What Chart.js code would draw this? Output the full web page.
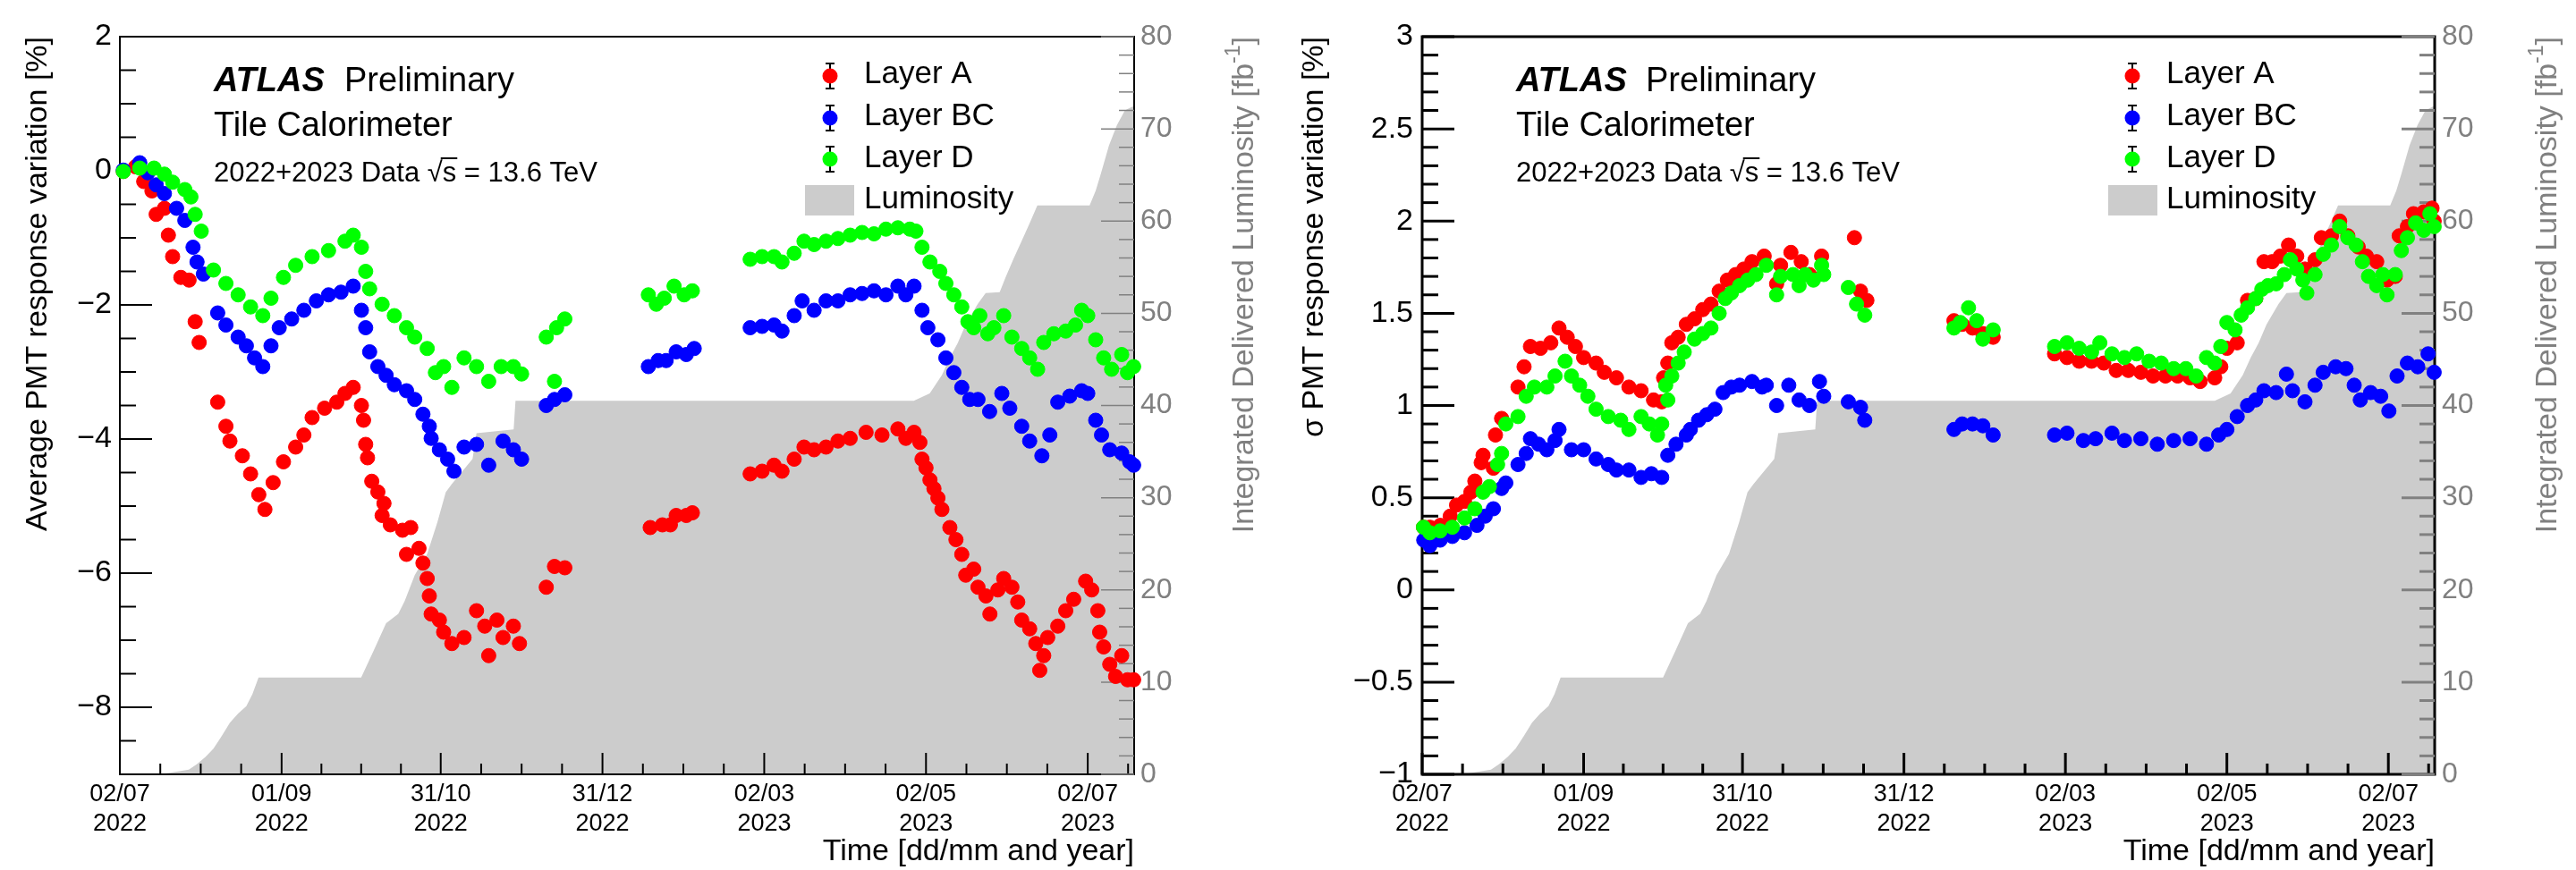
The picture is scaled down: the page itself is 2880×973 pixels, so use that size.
<!DOCTYPE html>
<html>
<head>
<meta charset="utf-8">
<title>TileCal PMT response variation</title>
<script src="https://cdn.jsdelivr.net/npm/chart.js@4.4.1/dist/chart.umd.min.js"></script>
<style>
  body { margin: 0; background: #fff; }
  #page { position: relative; width: 2880px; height: 973px; overflow: hidden; }
  .pad { position: absolute; top: 0; width: 1440px; height: 973px; }
</style>
</head>
<body>
<div id="page">
  <div class="pad" style="left:0"><canvas id="avgChart" width="1440" height="973"></canvas></div>
  <div class="pad" style="left:1440px"><canvas id="sigmaChart" width="1440" height="973"></canvas></div>
</div>
<script>
// x values are days since 02/07/2022
var dateTicks = [0, 61, 121, 182, 243, 304, 365];
var dateLabels = [['02/07', '2022'], ['01/09', '2022'], ['31/10', '2022'], ['31/12', '2022'],
                  ['02/03', '2023'], ['02/05', '2023'], ['02/07', '2023']];
var dayMax = 382.5;
var lumiTicks = [0, 10, 20, 30, 40, 50, 60, 70, 80];
var avgTicks = [-8, -6, -4, -2, 0, 2];
var sigTicks = [-1, -0.5, 0, 0.5, 1, 1.5, 2, 2.5, 3];
var layerNames = ['Layer A', 'Layer BC', 'Layer D'];
var layerColors = ['#ff0000', '#0000ff', '#00ff00'];

// integrated delivered luminosity [fb-1]
var lumi = [[0,0],[15.2,0],[26,0.5],[29,1.1],[32.3,1.9],[35.3,2.8],[38.5,4.2],[41.5,5.6],[44.6,6.6],
  [47.7,7.4],[50,8.7],[52.3,10.5],[91,10.5],[95.7,13.4],[100.4,16.4],[105,17.4],[107.4,18.8],
  [111.2,21.6],[115.9,23.9],[119.8,27.4],[122.9,30.6],[125.2,31.5],[133,34.2],[134.5,37],
  [148.5,37.4],[149.2,40.5],[299.4,40.5],[305.4,41.3],[310,43.3],[313,45.2],[316,46.8],[319,48.8],
  [323.5,51],[326.5,52.2],[331.8,52.3],[334,53.9],[337,55.9],[340,57.8],[343,59.7],[346,61.7],
  [365.7,61.7],[368,63.3],[370,65.2],[373,68.2],[376,70.4],[379,72],[382.5,72.5]];

// average PMT response variation [%]
var avgA = [[1.3,-0.01],[5.9,0.06],[9,-0.16],[12.1,-0.30],[13.7,-0.65],[16.8,-0.56],[18.3,-0.96],
  [19.9,-1.28],[23,-1.59],[26.1,-1.63],[28.4,-2.25],[29.9,-2.56],[36.9,-3.45],[40,-3.81],[41.5,-4.03],
  [46.2,-4.25],[49.3,-4.52],[52.4,-4.83],[54.7,-5.05],[57.8,-4.65],[61.7,-4.34],[66.3,-4.12],
  [69.4,-3.94],[72.5,-3.68],[77.2,-3.54],[81.8,-3.45],[84.9,-3.32],[88,-3.23],[91.1,-3.50],
  [91.9,-3.72],[92.7,-4.08],[93.4,-4.28],[95,-4.63],[97.3,-4.79],[98.9,-5.14],[99.6,-4.96],
  [102,-5.28],[106.6,-5.36],[108.1,-5.72],[109.7,-5.32],[112.8,-5.63],[114.3,-5.85],[115.9,-6.08],
  [116.7,-6.34],[117.4,-6.61],[120.5,-6.70],[122.1,-6.88],[125.2,-7.05],[129.8,-6.96],[134.5,-6.56],
  [137.6,-6.79],[139.1,-7.23],[142.2,-6.70],[144.5,-6.96],[148.4,-6.79],[150.7,-7.05],
  [160.8,-6.21],[163.9,-5.90],[167.8,-5.92],
  [200,-5.32],[204.6,-5.28],[207.6,-5.28],[209.8,-5.14],[213.6,-5.14],[215.9,-5.10],
  [237.7,-4.52],[242.2,-4.48],[246.7,-4.39],[249.7,-4.48],[254.3,-4.30],[258,-4.12],[261.8,-4.16],
  [266.3,-4.12],[270.8,-4.03],[275.4,-3.99],[281.4,-3.90],[287.4,-3.94],[293.4,-3.85],[296.4,-3.99],
  [299.5,-3.90],[301.7,-4.05],[302.5,-4.30],[304,-4.43],[305.5,-4.61],[307,-4.74],[308.5,-4.88],
  [310,-5.05],[313,-5.32],[315.3,-5.50],[317.5,-5.72],[319,-6.03],[322,-5.94],[323.6,-6.21],
  [326.6,-6.34],[328.1,-6.61],[331.1,-6.25],[333.3,-6.08],[336.4,-6.21],[338.6,-6.43],[340.1,-6.70],
  [343.1,-6.83],[345.4,-7.05],[346.9,-7.45],[348.4,-7.23],[349.9,-6.96],[353.7,-6.79],[356.7,-6.56],
  [359.7,-6.39],[364.2,-6.12],[366.5,-6.25],[368.8,-6.56],[369.5,-6.88],[371,-7.10],[373.3,-7.36],
  [375.5,-7.54],[377.8,-7.23],[380,-7.59],[382.3,-7.59]];
var avgBC = [[1.3,0.01],[7.5,0.12],[10.6,-0.03],[13.7,-0.21],[16.8,-0.34],[21.4,-0.56],[24.5,-0.74],
  [27.6,-1.14],[29.1,-1.36],[31.5,-1.54],[36.9,-2.12],[40,-2.30],[44.6,-2.48],[47.7,-2.61],
  [50.8,-2.79],[53.9,-2.92],[57,-2.61],[60.1,-2.34],[64.8,-2.21],[69.4,-2.08],[74.1,-1.94],
  [78.7,-1.85],[83.4,-1.81],[88,-1.72],[91.1,-2.08],[92.7,-2.34],[94.2,-2.70],[97.3,-2.92],
  [100.4,-3.05],[103.5,-3.19],[108.1,-3.28],[111.2,-3.41],[114.3,-3.63],[116.7,-3.81],[117.4,-3.99],
  [120.5,-4.16],[123.6,-4.30],[126,-4.48],[129.8,-4.12],[134.5,-4.08],[139.1,-4.39],[144.5,-4.03],
  [148.4,-4.16],[151.5,-4.30],
  [160.8,-3.50],[163.9,-3.41],[167.8,-3.34],
  [199.3,-2.92],[203,-2.83],[206,-2.83],[209.8,-2.70],[213.6,-2.74],[216.6,-2.65],
  [237.7,-2.34],[242.2,-2.32],[246.7,-2.30],[249.7,-2.39],[254.3,-2.16],[257.3,-1.94],[261.8,-2.08],
  [266.3,-1.94],[270.8,-1.94],[275.4,-1.85],[279.9,-1.83],[284.4,-1.79],[288.9,-1.85],[293.4,-1.72],
  [296.4,-1.85],[299.5,-1.72],[302.5,-2.08],[304.7,-2.34],[308.5,-2.52],[311.5,-2.79],[314.5,-3.01],
  [317.5,-3.23],[320.5,-3.41],[323.6,-3.41],[328,-3.59],[332.6,-3.32],[335.6,-3.54],[340.1,-3.81],
  [343.1,-4.03],[347.7,-4.25],[350.7,-3.94],[353.7,-3.45],[358.2,-3.36],[362.7,-3.28],[365,-3.32],
  [368,-3.72],[370.2,-3.94],[373.3,-4.16],[377.8,-4.21],[380.8,-4.34],[382.3,-4.39]];
var avgD = [[1.3,-0.01],[7.5,0.04],[12.9,0.04],[16.8,-0.05],[19.9,-0.17],[24.5,-0.28],[26.8,-0.39],
  [28.4,-0.65],[30.7,-0.90],[35.3,-1.48],[40,-1.68],[44.6,-1.85],[49.3,-2.03],[53.9,-2.16],[57,-1.90],
  [61.7,-1.59],[66.3,-1.41],[72.5,-1.28],[78.7,-1.19],[84.9,-1.05],[88,-0.96],[91.1,-1.14],
  [92.7,-1.50],[94.2,-1.76],[98.9,-1.99],[103.5,-2.16],[108.1,-2.34],[111.2,-2.48],[115.9,-2.65],
  [119,-3.01],[122.1,-2.92],[125.2,-3.23],[129.8,-2.79],[134.5,-2.92],[139.1,-3.14],[143.8,-2.92],
  [148.4,-2.92],[151.5,-3.03],
  [160.8,-2.48],[163.9,-3.14],[164.7,-2.34],[167.8,-2.21],
  [199.3,-1.85],[202.3,-1.99],[205.3,-1.90],[209,-1.72],[212.8,-1.85],[215.9,-1.79],
  [237.7,-1.32],[242.2,-1.28],[246.7,-1.28],[249.7,-1.36],[254.3,-1.23],[258,-1.05],[261.8,-1.10],
  [266.3,-1.05],[270.8,-1.01],[275.4,-0.96],[279.9,-0.92],[284.4,-0.94],[288.9,-0.87],[293.4,-0.85],
  [297.9,-0.87],[300.2,-0.90],[302.5,-1.14],[305.5,-1.36],[309.2,-1.50],[311.5,-1.68],[314.5,-1.85],
  [317.5,-2.03],[319.8,-2.25],[322,-2.34],[324.3,-2.16],[327.3,-2.43],[329.6,-2.34],[333.3,-2.16],
  [336.4,-2.48],[340.1,-2.65],[343.1,-2.79],[346.1,-2.96],[348.4,-2.56],[352.2,-2.43],[356.7,-2.39],
  [360.4,-2.30],[362.7,-2.08],[365,-2.16],[368,-2.52],[371,-2.79],[374,-2.96],[377.8,-2.74],
  [380,-3.01],[382.3,-2.92]];

// sigma of PMT response variation [%]
var sigA = [[0.5,0.34],[2.9,0.34],[6.8,0.35],[10.6,0.40],[13,0.46],[16,0.48],[18.4,0.53],[19.9,0.59],
  [22.3,0.69],[23,0.73],[26.9,0.66],[27.7,0.84],[30,0.93],[36.2,1.10],[38.5,1.21],[40.9,1.32],
  [44.7,1.31],[48.6,1.34],[51.7,1.42],[54.8,1.37],[57.9,1.32],[61,1.26],[65.7,1.23],[68.8,1.18],
  [73.4,1.15],[78.1,1.10],[82.7,1.08],[87.4,1.03],[90.5,1.02],[91.2,1.15],[92.8,1.23],[94.3,1.34],
  [96.7,1.37],[99.8,1.44],[102.9,1.47],[106,1.52],[109.1,1.55],[112.2,1.62],[115.3,1.68],[118.4,1.71],
  [121.5,1.74],[124.6,1.78],[129.2,1.81],[133.9,1.66],[135.4,1.76],[139.3,1.83],[143.2,1.78],
  [146.3,1.71],[150.9,1.81],
  [163.3,1.91],[165.6,1.62],[168,1.57],
  [200.9,1.46],[204,1.44],[207.9,1.42],[211.8,1.39],[215.7,1.37],
  [238.9,1.28],[243.6,1.26],[248.2,1.24],[252.9,1.24],[257.5,1.23],[262.2,1.19],[266.8,1.19],
  [271.5,1.18],[276.1,1.16],[280.8,1.16],[285.4,1.16],[290.1,1.15],[293.9,1.13],[299.4,1.15],
  [301.7,1.21],[304,1.31],[307.9,1.34],[311.8,1.57],[314.9,1.58],[318,1.78],[321.1,1.78],[324.2,1.81],
  [327.3,1.87],[330.4,1.81],[333.5,1.74],[337.3,1.79],[339.7,1.91],[343.5,1.92],[346.6,2.00],
  [349.7,1.92],[353.6,1.86],[356.7,1.81],[360.6,1.78],[364.5,1.68],[367.6,1.70],[369.1,1.92],
  [372.2,1.97],[374.5,2.04],[378.4,2.05],[381.5,2.07],[382.3,2.00]];
var sigBC = [[0.6,0.27],[2.9,0.24],[6.8,0.27],[11.4,0.29],[16,0.31],[20.7,0.35],[23.8,0.40],[26.9,0.44],
  [30,0.55],[31.6,0.58],[36.2,0.68],[39.3,0.74],[40.9,0.82],[44,0.79],[47.1,0.76],[50.2,0.81],
  [51.7,0.87],[56.4,0.76],[61,0.76],[65.7,0.71],[70.3,0.68],[73.4,0.65],[78.1,0.65],[82.7,0.61],
  [86.6,0.63],[90.5,0.61],[92.8,0.73],[95.9,0.79],[99.8,0.84],[101.3,0.87],[104.4,0.92],[107.5,0.95],
  [110.6,0.98],[113.7,1.07],[116.8,1.10],[119.9,1.11],[124.6,1.13],[128.4,1.10],[130,1.11],
  [133.9,1.00],[138.5,1.11],[142.4,1.03],[146.3,1.00],[150.1,1.13],[151.7,1.05],
  [161,1.02],[165.6,0.99],[167.2,0.92],
  [200.9,0.87],[204,0.90],[207.9,0.90],[211.8,0.89],[215.7,0.84],
  [238.9,0.84],[243.6,0.85],[249.8,0.81],[254.4,0.82],[260.6,0.85],[265.3,0.81],[271.5,0.82],
  [277.7,0.79],[283.9,0.81],[290.1,0.82],[296.3,0.79],[300.9,0.84],[304,0.87],[307.9,0.94],
  [311.8,1.00],[314.9,1.03],[318,1.08],[322.6,1.07],[326.5,1.17],[328.8,1.08],[333.5,1.02],
  [337.3,1.11],[340.4,1.18],[345.1,1.21],[349,1.20],[352.1,1.11],[354.4,1.03],[358.3,1.07],
  [362.1,1.05],[365.2,0.97],[368.3,1.16],[372.2,1.23],[376.1,1.21],[380,1.28],[382.3,1.18]];
var sigD = [[0.5,0.34],[2.9,0.31],[6.8,0.32],[11.4,0.34],[16,0.39],[19.9,0.44],[23,0.53],[25.4,0.56],
  [28.5,0.68],[30,0.74],[31.6,0.90],[36.2,0.94],[39.3,1.05],[42.4,1.10],[47.1,1.10],[50.2,1.16],
  [54,1.24],[56.4,1.16],[59.5,1.11],[62.6,1.05],[65.7,0.98],[70.3,0.94],[75,0.92],[78.1,0.87],
  [82.7,0.94],[85.8,0.90],[88.9,0.84],[90.5,0.90],[92,1.11],[92.8,1.03],[94.3,1.16],[96.7,1.23],
  [99,1.29],[102.9,1.36],[106,1.39],[109.1,1.42],[112.2,1.50],[114.5,1.58],[116.8,1.61],[119.9,1.65],
  [123,1.68],[126.1,1.71],[130,1.76],[133.9,1.60],[135.4,1.70],[140.1,1.71],[142.4,1.65],[144.7,1.71],
  [147.8,1.68],[150.9,1.76],[151.7,1.71],
  [161,1.64],[164.1,1.55],[167.2,1.49],
  [200.9,1.42],[203.3,1.45],[206.4,1.53],[209.5,1.46],[211.8,1.36],[215.7,1.41],
  [238.9,1.32],[243.6,1.34],[248.2,1.31],[252.9,1.29],[256,1.34],[260.6,1.28],[265.3,1.26],
  [269.9,1.28],[274.6,1.24],[279.2,1.23],[283.9,1.20],[288.5,1.20],[292.4,1.16],[296.3,1.26],
  [299.4,1.23],[301.7,1.32],[304,1.45],[307.1,1.41],[309.4,1.49],[311.8,1.53],[314.9,1.58],
  [317.2,1.63],[319.5,1.65],[322.6,1.66],[325.7,1.71],[328,1.79],[330.4,1.74],[332.7,1.68],
  [334.2,1.61],[337.3,1.71],[340.4,1.82],[343.5,1.87],[346.6,1.97],[349.7,1.91],[352.8,1.87],
  [355.2,1.78],[357.5,1.70],[360.6,1.65],[362.9,1.71],[364.5,1.60],[367.6,1.71],[369.9,1.84],
  [372.2,1.91],[375.3,1.99],[378.4,1.95],[380.7,2.04],[382.3,1.97]];

var FONT = "'Liberation Sans', Arial, Helvetica, sans-serif";
var GREY = '#808080';

function fmt(v) { return v < 0 ? '\u2212' + Math.abs(v) : String(v); }
function pts(arr) { return arr.map(function(p) { return { x: p[0], y: p[1] }; }); }

function dateMinors() {
  var out = [];
  for (var i = 0; i < dateTicks.length - 1; i++) {
    var a = dateTicks[i], b = dateTicks[i + 1];
    for (var k = 1; k < 4; k++) out.push(a + (b - a) * k / 4);
  }
  var last = dateTicks[dateTicks.length - 1];
  var st = (last - dateTicks[0]) / ((dateTicks.length - 1) * 4);
  for (var d = last + st; d <= dayMax; d += st) out.push(d);
  return out;
}

function seg(ctx, x1, y1, x2, y2) {
  ctx.beginPath(); ctx.moveTo(x1, y1); ctx.lineTo(x2, y2); ctx.stroke();
}

// draw pieces of text one after another; each piece may be smaller / raised
function richText(ctx, parts, x, y) {
  parts.forEach(function(p) {
    ctx.font = (p.style || '') + ' ' + p.size + 'px ' + FONT;
    ctx.fillText(p.t, x, y - (p.dy || 0));
    x += ctx.measureText(p.t).width;
  });
}
function richWidth(ctx, parts) {
  var w = 0;
  parts.forEach(function(p) { ctx.font = (p.style || '') + ' ' + p.size + 'px ' + FONT; w += ctx.measureText(p.t).width; });
  return w;
}

function decor(spec) {
  return {
    id: 'decor',
    afterDatasetDraw: function(chart, args) {
      if (args.index !== 0) return;   // right after the luminosity fill, under the markers
      var ctx = chart.ctx, a = chart.chartArea;
      var sx = chart.scales.x, sy = chart.scales.y, s2 = chart.scales.y2;
      ctx.save();
      ctx.strokeStyle = '#000';
      ctx.lineWidth = spec.lw;
      ctx.strokeRect(a.left, a.top, a.right - a.left, a.bottom - a.top);
      var n = Math.round((spec.yMax - spec.yMin) / spec.yStep);
      for (var i = 0; i <= n; i++) {
        var v = spec.yMin + i * spec.yStep, py = sy.getPixelForValue(v);
        var major = spec.yTicks.some(function(t) { return Math.abs(t - v) < 1e-6; });
        seg(ctx, a.left, py, a.left + (major ? 36 : 18), py);
      }
      dateTicks.forEach(function(d) { var px = sx.getPixelForValue(d); seg(ctx, px, a.bottom, px, a.bottom - 24); });
      dateMinors().forEach(function(d) { var px = sx.getPixelForValue(d); seg(ctx, px, a.bottom, px, a.bottom - 12); });
      ctx.strokeStyle = GREY;
      ctx.lineWidth = spec.lw2;
      for (var l = 0; l <= 80; l += 2) {
        var p2 = s2.getPixelForValue(l);
        seg(ctx, a.right - (l % 10 === 0 ? 37 : 17), p2, a.right, p2);
      }
      ctx.restore();
    },
    afterDraw: function(chart) {
      var ctx = chart.ctx, a = chart.chartArea;
      ctx.save();
      ctx.fillStyle = '#000';
      ctx.textAlign = 'left';
      ctx.textBaseline = 'alphabetic';
      // ATLAS label
      ctx.font = 'italic bold 38px ' + FONT;
      ctx.fillText('ATLAS', spec.labelX, 102);
      ctx.font = '38px ' + FONT;
      ctx.fillText('Preliminary', spec.prelimX, 102);
      ctx.font = '38px ' + FONT;
      ctx.fillText('Tile Calorimeter', spec.labelX, 152);
      ctx.font = '31px ' + FONT;
      var x = spec.labelX, y = 203;
      var t1 = '2022+2023 Data ', t2 = '\u221A', t3 = 's', t4 = ' = 13.6 TeV';
      ctx.fillText(t1, x, y); x += ctx.measureText(t1).width;
      ctx.fillText(t2, x, y); x += ctx.measureText(t2).width;
      ctx.fillText(t3, x, y);
      var ws = ctx.measureText(t3).width;
      ctx.strokeStyle = '#000'; ctx.lineWidth = 2;
      seg(ctx, x - 2, y - 26, x + ws + 1, y - 26);
      ctx.fillText(t4, x + ws, y);

      // legend
      var rows = [85, 132, 178], base = [93, 140, 187];
      ctx.font = '35px ' + FONT;
      layerNames.forEach(function(name, i) {
        ctx.strokeStyle = '#000'; ctx.lineWidth = 2;
        seg(ctx, spec.legX, rows[i] - 14, spec.legX, rows[i] + 14);
        seg(ctx, spec.legX - 5, rows[i] - 14, spec.legX + 5, rows[i] - 14);
        seg(ctx, spec.legX - 5, rows[i] + 14, spec.legX + 5, rows[i] + 14);
        ctx.fillStyle = layerColors[i];
        ctx.beginPath(); ctx.arc(spec.legX, rows[i], 8.5, 0, Math.PI * 2); ctx.fill();
        ctx.fillStyle = '#000';
        ctx.fillText(name, spec.legTextX, base[i]);
      });
      ctx.fillStyle = '#cccccc';
      ctx.fillRect(spec.boxX, 207, 55, 34);
      ctx.fillStyle = '#000';
      ctx.fillText('Luminosity', spec.legTextX, 233);

      // x axis title
      ctx.font = '34px ' + FONT;
      ctx.textAlign = 'right';
      ctx.fillText('Time [dd/mm and year]', a.right, 962);

      // left y title
      ctx.save();
      ctx.translate(spec.yTitleX, 41);
      ctx.rotate(-Math.PI / 2);
      ctx.font = '34px ' + FONT;
      ctx.textAlign = 'right';
      ctx.textBaseline = 'middle';
      ctx.fillText(spec.yTitle, 0, 0);
      ctx.restore();

      // right y title
      ctx.save();
      ctx.translate(spec.y2TitleX, 41);
      ctx.rotate(-Math.PI / 2);
      ctx.fillStyle = GREY;
      ctx.textAlign = 'left';
      ctx.textBaseline = 'middle';
      var parts = [{ t: 'Integrated Delivered Luminosity [fb', size: 34 },
                   { t: '-1', size: 23, dy: 12 },
                   { t: ']', size: 34 }];
      richText(ctx, parts, -richWidth(ctx, parts), 0);
      ctx.restore();
      ctx.restore();
    }
  };
}

function build(id, spec) {
  var datasets = [{
    type: 'line', label: 'Luminosity', data: pts(lumi), yAxisID: 'y2', showLine: true,
    borderWidth: 0, borderColor: 'rgba(0,0,0,0)', pointRadius: 0, tension: 0,
    fill: 'origin', backgroundColor: '#cccccc', order: 10
  }];
  spec.series.forEach(function(s, i) {
    datasets.push({
      type: 'scatter', label: layerNames[i], data: pts(s), yAxisID: 'y',
      pointRadius: 8, pointBorderWidth: 1,
      pointBackgroundColor: layerColors[i], pointBorderColor: layerColors[i],
      backgroundColor: layerColors[i], borderColor: layerColors[i],
      showLine: false, clip: false, order: 3 - i
    });
  });
  return new Chart(document.getElementById(id), {
    type: 'scatter',
    data: { datasets: datasets },
    options: {
      responsive: false,
      animation: false,
      devicePixelRatio: 1,
      events: [],
      layout: { padding: { top: 41, left: 0, right: 0, bottom: 0 } },
      plugins: { legend: { display: false }, tooltip: { enabled: false }, title: { display: false } },
      scales: {
        x: {
          type: 'linear', position: 'bottom', min: 0, max: dayMax,
          grid: { display: false, drawTicks: false },
          border: { display: false },
          afterBuildTicks: function(s) { s.ticks = dateTicks.map(function(v) { return { value: v }; }); },
          afterFit: function(s) { s.height = 107; },
          ticks: {
            autoSkip: false, maxRotation: 0, minRotation: 0, padding: 6.5, color: '#000',
            font: { family: FONT, size: 27, lineHeight: 1.22 },
            callback: function(v) { var i = dateTicks.indexOf(v); return i < 0 ? '' : dateLabels[i]; }
          }
        },
        y: {
          type: 'linear', position: 'left', min: spec.yMin, max: spec.yMax,
          grid: { display: false, drawTicks: false },
          border: { display: false },
          afterBuildTicks: function(s) { s.ticks = spec.yTicks.map(function(v) { return { value: v }; }); },
          afterFit: function(s) { s.width = spec.left; },
          ticks: { padding: spec.yPad, color: '#000', font: { family: FONT, size: 34 },
                   callback: function(v) { return fmt(v); } }
        },
        y2: {
          type: 'linear', position: 'right', min: 0, max: 80,
          grid: { display: false, drawTicks: false },
          border: { display: false },
          afterBuildTicks: function(s) { s.ticks = lumiTicks.map(function(v) { return { value: v }; }); },
          afterFit: function(s) { s.width = 1440 - spec.right; },
          ticks: { padding: spec.y2Pad, color: GREY, font: { family: FONT, size: 32 } }
        }
      }
    },
    plugins: [decor(spec)]
  });
}

build('avgChart', {
  series: [avgA, avgBC, avgD],
  yMin: -9, yMax: 2, yTicks: avgTicks, yStep: 0.5,
  yTitle: 'Average PMT response variation [%]',
  left: 134, right: 1268, lw: 2, lw2: 1.5, yPad: 9, y2Pad: 7,
  labelX: 239, prelimX: 385, legX: 928, legTextX: 966, boxX: 900,
  yTitleX: 43, y2TitleX: 1392
});
build('sigmaChart', {
  series: [sigA, sigBC, sigD],
  yMin: -1, yMax: 3, yTicks: sigTicks, yStep: 0.1,
  yTitle: '\u03C3 PMT response variation [%]',
  left: 150, right: 1282, lw: 3, lw2: 3, yPad: 10, y2Pad: 8,
  labelX: 255, prelimX: 400, legX: 944, legTextX: 982, boxX: 917,
  yTitleX: 30, y2TitleX: 1409
});
</script>
</body>
</html>
